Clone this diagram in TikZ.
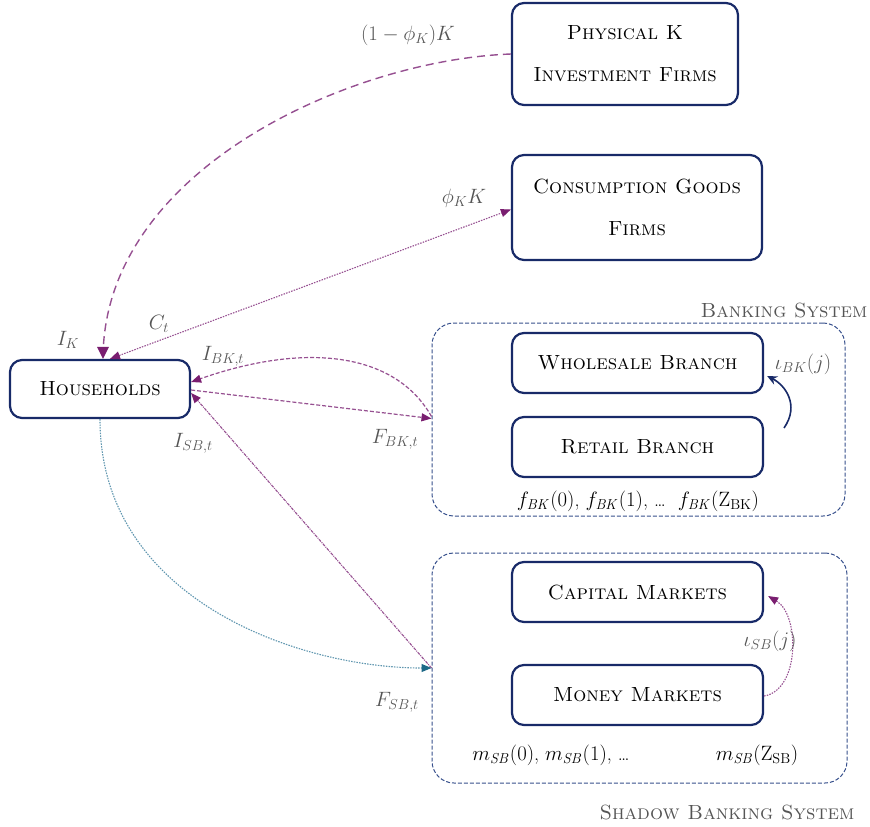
\documentclass[tikz,border=0pt]{standalone}
\usetikzlibrary{arrows.meta,calc}
\definecolor{navy}{RGB}{24,42,104}
\definecolor{boxdash}{RGB}{55,80,140}
\definecolor{purp}{RGB}{122,30,112}
\definecolor{purpl}{RGB}{150,80,145}
\definecolor{tealh}{RGB}{30,105,135}
\definecolor{teall}{RGB}{95,150,175}
\definecolor{lgrey}{RGB}{85,85,85}
\tikzset{
  firm/.style={draw=navy, line width=2.2pt, rounded corners=12pt, fill=white, align=center,
    font=\fontsize{20.5}{42}\selectfont\scshape, inner sep=0pt},
  sysbox/.style={draw=boxdash, line width=1pt, dash pattern=on 4pt off 2pt, rounded corners=22pt, inner sep=0pt},
  syslabel/.style={text=lgrey, font=\fontsize{20.5}{24}\selectfont\scshape},
  lab/.style={text=lgrey, font=\fontsize{21}{25}\selectfont},
  note/.style={text=black, font=\fontsize{20}{24}\selectfont},
}
\begin{document}
\begin{tikzpicture}[x=1pt,y=-1pt]
\useasboundingbox (0,0) rectangle (870,827);
% system boxes
\node[sysbox, minimum width=413pt, minimum height=193pt] (bank) at (638.5,419.5) {};
\node[sysbox, minimum width=415pt, minimum height=230pt] (shadow) at (639.5,668) {};
\node[syslabel] (banklab) at (784,310) {Banking System};
\node[syslabel] (shadowlab) at (727,812) {Shadow Banking System};
% firms
\node[firm, minimum width=226pt, minimum height=102pt] (phys) at (625,54) {Physical K\\Investment Firms};
\node[firm, minimum width=250pt, minimum height=105pt] (cons) at (637,207.5) {Consumption Goods\\Firms};
\node[firm, minimum width=180pt, minimum height=58pt] (hh) at (100,389) {Households};
\node[firm, minimum width=251pt, minimum height=60pt] (whole) at (637.5,363) {Wholesale Branch};
\node[firm, minimum width=251pt, minimum height=60pt] (retail) at (637.5,447) {Retail Branch};
\node[firm, minimum width=251pt, minimum height=60pt] (cap) at (637.5,592) {Capital Markets};
\node[firm, minimum width=251pt, minimum height=60pt] (money) at (637.5,695) {Money Markets};
% notes inside systems
\node[note] (fbk) at (638,501) {$f_{\mathit{BK}}(0)$, $f_{\mathit{BK}}(1)$, \dots\ \ $f_{\mathit{BK}}(\mathrm{Z}_{\mathrm{BK}})$};
\node[note] (msb1) at (551,755) {$m_{\mathit{SB}}(0)$, $m_{\mathit{SB}}(1)$, \dots};
\node[note] (msb2) at (757,755) {$m_{\mathit{SB}}(\mathrm{Z}_{\mathrm{SB}})$};
% connectors
\draw[purpl, line width=1.4pt, dash pattern=on 8pt off 5pt]
  (phys.west) .. controls (350,60) and ([xshift=3pt]hh.north |- 0,170) .. ([xshift=3pt]hh.north);
\fill[purp] ([xshift=3pt]hh.north) -- +(-6,-12) -- +(6,-12) -- cycle;
\draw[purpl, line width=1.1pt, dash pattern=on 1.5pt off 1.2pt, {Triangle[length=10pt,width=8pt,purp]}-{Triangle[length=10pt,width=8pt,purp]}]
  ([xshift=10pt]hh.north) -- ([yshift=-2pt]cons.west);
\draw[purpl, line width=1.2pt, dash pattern=on 4pt off 2pt, -{Triangle[length=10pt,width=8pt,purp]}]
  ([yshift=3pt]bank.west) .. controls (395,352) and (305,342) .. ([yshift=7pt]hh.east);
\draw[purpl, line width=1.2pt, dash pattern=on 4pt off 2pt, -{Triangle[length=10pt,width=8pt,purp]}]
  ([yshift=-1pt]hh.east) -- ([yshift=1pt]bank.west);
\draw[purpl, line width=1.1pt, dash pattern=on 3pt off 1pt on 1pt off 1pt, -{Triangle[length=10pt,width=8pt,purp]}]
  (shadow.west) -- ([yshift=-4pt]hh.east);
\draw[teall, line width=1.1pt, dash pattern=on 1.5pt off 1.2pt, -{Triangle[length=10pt,width=8pt,tealh]}]
  (hh.south) .. controls (100,600) and (300,668) .. (shadow.west);
\coordinate (ibkstart) at (784,428);
\draw[navy, line width=1.6pt, -{Stealth[length=10pt,width=9pt]}]
  (ibkstart) .. controls (800,405) and (785,385) .. ([xshift=3pt,yshift=-13pt]whole.east);
\draw[purpl, line width=1.1pt, dash pattern=on 1.5pt off 1.2pt, -{Triangle[length=10pt,width=8pt,purp]}]
  ([yshift=-1pt]money.east) .. controls (800,690) and (800,615) .. ([xshift=4pt,yshift=-4pt]cap.east);
% labels
\node[lab] at (408,35) {$(1-\phi_K)K$};
\node[lab] at (464,198) {$\phi_K K$};
\node[lab] at (159,324) {$C_t$};
\node[lab] at (68,340) {$I_K$};
\node[lab] at (223,356) {$I_{BK,t}$};
\node[lab] at (395,439) {$F_{BK,t}$};
\node[lab] at (193,443) {$I_{SB,t}$};
\node[lab] at (397,702) {$F_{SB,t}$};
\node[lab] at (803,364) {$\iota_{BK}(j)$};
\node[lab] at (770,641) {$\iota_{SB}(j)$};
\end{tikzpicture}
\end{document}
